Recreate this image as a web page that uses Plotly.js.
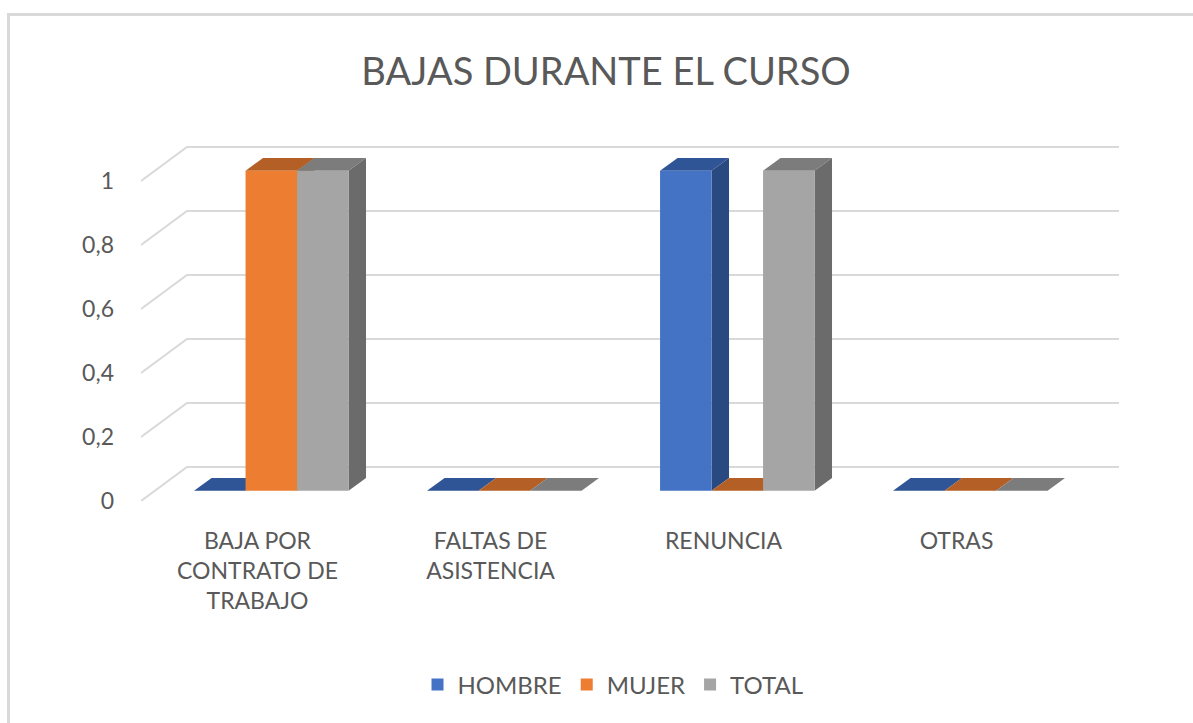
<!DOCTYPE html>
<html>
<head>
<meta charset="utf-8">
<script src="https://cdn.plot.ly/plotly-3.0.1.min.js"></script>
<style>html,body{margin:0;padding:0;background:#fff;}#chart{width:1193px;height:723px;}</style>
</head>
<body>
<div id="chart"></div>
<script>
// ---- data ----
const categories = ['BAJA POR CONTRATO DE TRABAJO', 'FALTAS DE ASISTENCIA', 'RENUNCIA', 'OTRAS'];
const tickLabels = ['BAJA POR<br>CONTRATO DE<br>TRABAJO', 'FALTAS DE<br>ASISTENCIA', 'RENUNCIA', 'OTRAS'];
const seriesNames = ['HOMBRE', 'MUJER', 'TOTAL'];
const hombre = [0, 0, 1, 0];
const mujer = [1, 0, 0, 0];
const total = [1, 0, 1, 0];
const yTicks = [0, 0.2, 0.4, 0.6, 0.8, 1];

// ---- styles ----
const frontColors = ['#4472C4', '#ED7D31', '#A5A5A5'];
const topColors = ['#2F5597', '#B45F25', '#7C7C7C'];
const sideColors = ['#284A80', '#A9571F', '#6B6B6B'];
const textColor = '#595959';
const gridColor = '#D9D9D9';
const FONT = 'Lato, "Open Sans", sans-serif';

// ---- geometry (pixels) ----
const W = 1193, H = 723;
const L = 141, R = 1119, B = 501, T = 133;
const pxPerX = 233, pxPerY = 320;
const depthPx = [46, 34];          // full floor depth offset
const barFront = 0.3, barDepth = 0.38; // fractions of the floor depth
const bargap = 0.337;

const xRange = [-0.5, -0.5 + (R - L) / pxPerX];
const yRange = [0, (B - T) / pxPerY];
const dxU = depthPx[0] / pxPerX, dyU = depthPx[1] / pxPerY;
const x2Range = [xRange[0] - barFront * dxU, xRange[1] - barFront * dxU];
const y2Range = [yRange[0] - barFront * dyU, yRange[1] - barFront * dyU];
const barW = (1 - bargap) / 3;
const ddx = barDepth * dxU, ddy = barDepth * dyU;

const series = [hombre, mujer, total];
const idx = categories.map((c, i) => i);

const traces = series.map((vals, s) => ({
  type: 'bar',
  name: seriesNames[s],
  x: idx,
  y: vals,
  xaxis: 'x2',
  yaxis: 'y2',
  marker: {color: frontColors[s], line: {width: 0}},
  hoverinfo: 'skip'
}));

const shapes = [];
// slanted gridlines
yTicks.forEach(v => {
  shapes.push({
    type: 'path', xref: 'x', yref: 'y', layer: 'below',
    path: `M ${xRange[0]},${v} L ${xRange[0] + dxU},${v + dyU} L ${xRange[1]},${v + dyU}`,
    line: {color: gridColor, width: 2}
  });
});
// 3D faces of the bars
series.forEach((vals, s) => {
  vals.forEach((v, i) => {
    const x0 = i + (s - 1) * barW - barW / 2;
    const x1 = x0 + barW;
    shapes.push({
      type: 'path', xref: 'x2', yref: 'y2', layer: 'below',
      path: `M ${x0},${v} L ${x1},${v} L ${x1 + ddx},${v + ddy} L ${x0 + ddx},${v + ddy} Z`,
      fillcolor: topColors[s], line: {width: 0}
    });
    if (v > 0) {
      shapes.push({
        type: 'path', xref: 'x2', yref: 'y2', layer: 'below',
        path: `M ${x1},0 L ${x1},${v} L ${x1 + ddx},${v + ddy} L ${x1 + ddx},${ddy} Z`,
        fillcolor: sideColors[s], line: {width: 0}
      });
    }
  });
});
// chart border
const pw = R - L, ph = B - T;
shapes.push({
  type: 'rect', xref: 'paper', yref: 'paper', layer: 'above',
  x0: (8.5 - L) / pw, x1: (1205 - L) / pw,
  y0: (B - 735) / ph, y1: (B - 14.5) / ph,
  line: {color: '#D9D9D9', width: 3}
});

const layout = {
  width: W, height: H,
  margin: {l: L, r: W - R, t: T, b: H - B, pad: 0},
  paper_bgcolor: '#fff', plot_bgcolor: 'rgba(0,0,0,0)',
  separators: ',.',
  font: {family: FONT, color: textColor, size: 22},
  title: {
    text: 'BAJAS DURANTE EL CURSO',
    font: {family: FONT, size: 38, color: textColor},
    xref: 'container', x: 606 / W, xanchor: 'center',
    yref: 'container', y: 1 - 72 / H, yanchor: 'middle'
  },
  barmode: 'group', bargap: bargap, bargroupgap: 0,
  xaxis: {
    range: xRange, showgrid: false, zeroline: false, showline: false,
    tickmode: 'array', tickvals: idx, ticktext: tickLabels,
    ticks: '', ticklabelstandoff: 24,
    tickfont: {family: FONT, size: 23, color: textColor}, fixedrange: true
  },
  yaxis: {
    range: yRange, showgrid: false, zeroline: false, showline: false,
    tickmode: 'array', tickvals: yTicks,
    ticks: '', ticklabelstandoff: 26,
    tickfont: {family: FONT, size: 23, color: textColor}, fixedrange: true
  },
  xaxis2: {range: x2Range, overlaying: 'x', visible: false, fixedrange: true},
  yaxis2: {range: y2Range, overlaying: 'y', visible: false, fixedrange: true},
  showlegend: true,
  legend: {
    orientation: 'h', x: (613 - L) / pw, xanchor: 'center',
    y: (B - 685) / ph, yanchor: 'middle',
    font: {family: FONT, size: 24, color: textColor},
    traceorder: 'normal', itemclick: false
  },
  shapes: shapes
};

Plotly.newPlot('chart', traces, layout, {staticPlot: true, displayModeBar: false});
</script>
</body>
</html>
